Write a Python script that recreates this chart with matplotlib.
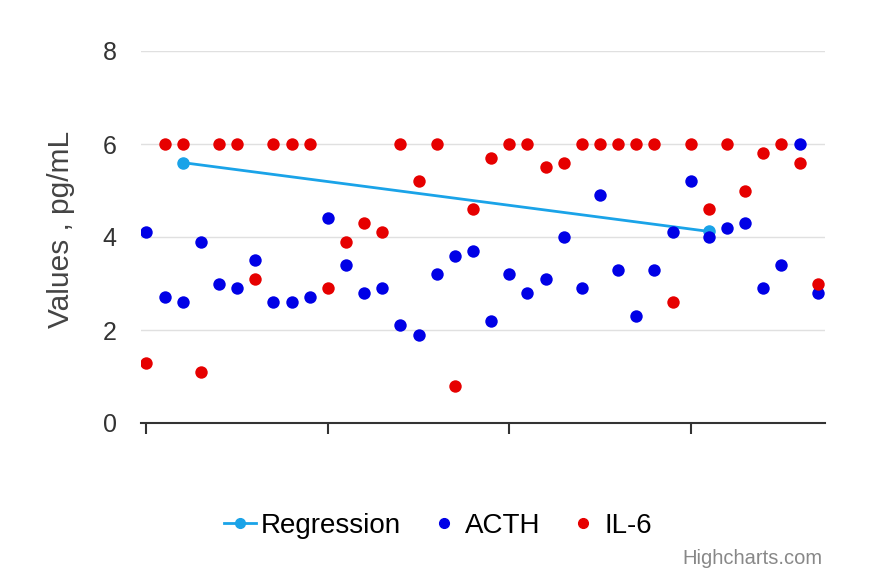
import matplotlib
matplotlib.use("Agg")
import matplotlib.pyplot as plt
from matplotlib.lines import Line2D

plt.rcParams['font.family'] = ['Liberation Sans', 'DejaVu Sans']

x_index = list(range(38))
acth = [4.1, 2.7, 2.6, 3.9, 3.0, 2.9, 3.5, 2.6, 2.6, 2.7,
        4.4, 3.4, 2.8, 2.9, 2.1, 1.9, 3.2, 3.6, 3.7, 2.2,
        3.2, 2.8, 3.1, 4.0, 2.9, 4.9, 3.3, 2.3, 3.3, 4.1,
        5.2, 4.0, 4.2, 4.3, 2.9, 3.4, 6.0, 2.8]
il6 = [1.3, 6.0, 6.0, 1.1, 6.0, 6.0, 3.1, 6.0, 6.0, 6.0,
       2.9, 3.9, 4.3, 4.1, 6.0, 5.2, 6.0, 0.8, 4.6, 5.7,
       6.0, 6.0, 5.5, 5.6, 6.0, 6.0, 6.0, 6.0, 6.0, 2.6,
       6.0, 4.6, 6.0, 5.0, 5.8, 6.0, 5.6, 3.0]
reg_x = [2, 31]
reg_y = [5.6, 4.12]
y_ticks = [0, 2, 4, 6, 8]
x_ticks = [0, 10, 20, 30]

reg_color = '#1aa3e8'
fig = plt.figure(figsize=(8.75, 5.81), dpi=100)
ax = fig.add_axes([141/875, 1-423/581, (825-141)/875, (423-51)/581])

ax.plot(reg_x, reg_y, color=reg_color, lw=2, marker='o', ms=8, zorder=3)
ax.scatter(x_index, acth, s=80, color='#0000e6', zorder=4, linewidths=0)
ax.scatter(x_index, il6, s=80, color='#e60000', zorder=5, linewidths=0)

ax.set_xlim(-0.3, 37.4)
ax.set_ylim(0, 8)
ax.set_yticks(y_ticks)
ax.set_xticks(x_ticks)
ax.set_xticklabels([])
ax.grid(axis='y', color='#e0e0e0', lw=1)
ax.set_axisbelow(True)
for s in ['left', 'right', 'top']:
    ax.spines[s].set_visible(False)
ax.spines['bottom'].set_color('#333333')
ax.spines['bottom'].set_linewidth(1.5)
ax.spines['bottom'].set_zorder(6)
ax.tick_params(axis='x', direction='out', length=8, width=1.5, color='#333333')
ax.tick_params(axis='y', length=0, pad=17.5, labelsize=18, labelcolor='#333333')
ax.set_ylabel('Values , pg/mL', fontsize=21.5, color='#444444')
ax.yaxis.set_label_coords((75-141)/684, (423-229)/372)

handles = [
    Line2D([0], [0], color=reg_color, lw=2, marker='o', ms=7),
    Line2D([0], [0], color='#0000e6', lw=0, marker='o', ms=7),
    Line2D([0], [0], color='#e60000', lw=0, marker='o', ms=7),
]
fig.legend(handles, ['Regression', 'ACTH', 'IL-6'], loc='center',
           bbox_to_anchor=(438/875, 1-526/581), ncol=3, frameon=False,
           fontsize=20, handlelength=1.15, handletextpad=0.2, columnspacing=0.95,
           borderpad=0, borderaxespad=0)
fig.text(822/875, 1-558/581, 'Highcharts.com', ha='right', va='center',
         fontsize=14.5, color='#888888')

fig.savefig('out.png', dpi=100)
